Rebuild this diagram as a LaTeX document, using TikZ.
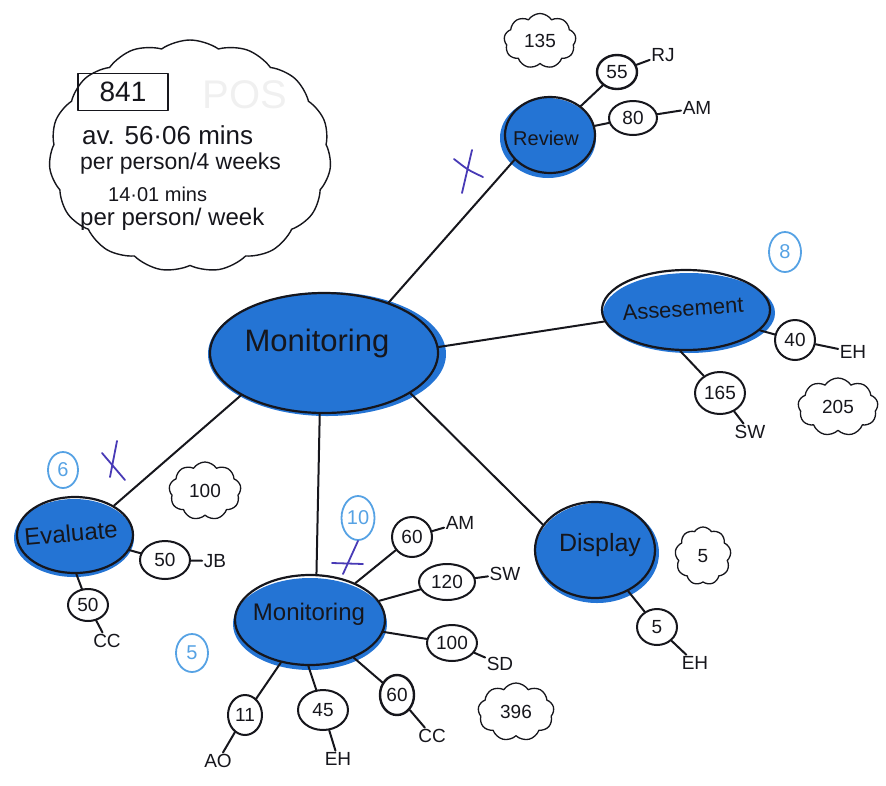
\documentclass[tikz,border=0pt]{standalone}
\usepackage{fontspec}
\setmainfont{Liberation Sans}
\usetikzlibrary{shapes.geometric,shapes.symbols}
\definecolor{marker}{RGB}{36,116,212}
\definecolor{paleblue}{RGB}{86,162,228}
\definecolor{pen}{RGB}{22,22,28}
\definecolor{violetpen}{RGB}{72,58,182}
\newcommand{\fs}[1]{\fontsize{#1}{#1}\selectfont}

\begin{document}
\begin{tikzpicture}[x=1pt,y=-1pt,line join=round,line cap=round,
  ink/.style={draw=pen,line width=2pt},
  topic/.style={ellipse,ink,line width=2.2pt,inner sep=0pt},
  topictext/.style={inner sep=0pt,text=pen},
  count/.style={ellipse,ink,inner sep=0pt,text=pen,font=\fs{19}},
  who/.style={inner sep=1.5pt,text=pen,font=\fs{19}},
  puff/.style={cloud,cloud puffs=9,cloud puff arc=115,cloud ignores aspect,
    draw=pen,line width=1.3pt,inner sep=0pt,text=pen,font=\fs{19}},
  tally/.style={ellipse,draw=paleblue,line width=1.8pt,inner sep=0pt,
    text=paleblue,font=\fs{20}},
  tick/.style={draw=violetpen,line width=1.8pt}]

\useasboundingbox (0,0) rectangle (886,785);

% ---- summary cloud ----
\node[cloud,cloud puffs=15,cloud puff arc=70,cloud ignores aspect,draw=pen,
  line width=1.4pt,minimum width=282pt,minimum height=232pt] (summary) at (190,156) {};
\node[draw=pen,line width=1.8pt,minimum width=90pt,minimum height=37pt,
  inner sep=0pt,font=\fs{28},text=pen] (total) at (123,92) {841};
\node[text=black!6,font=\fs{40}] (ghost) at (245,95) {POS};
\node[anchor=west,inner sep=0pt,text=pen,font=\fs{26}] (avg4) at (82,135) {av. 56·06 mins};
\node[anchor=west,inner sep=0pt,text=pen,font=\fs{23}] (per4) at (80,164) {per person/4 weeks};
\node[anchor=west,inner sep=0pt,text=pen,font=\fs{20}] (avg1) at (108,194) {14·01 mins};
\node[anchor=west,inner sep=0pt,text=pen,font=\fs{24}] (per1) at (80,219) {per person/ week};

% ---- marker fills under the topic ellipses ----
\fill[marker] (327,354) ellipse [x radius=119pt,y radius=62pt];
\fill[marker] (548,138) ellipse [x radius=48pt,y radius=40pt];
\fill[marker] (689,313) ellipse [x radius=86pt,y radius=40pt];
\fill[marker] (74,538) ellipse [x radius=60pt,y radius=39pt];
\fill[marker] (310,624) ellipse [x radius=77pt,y radius=46pt];
\fill[marker] (597,553) ellipse [x radius=62pt,y radius=50pt];

% ---- topics ----
\node[topic,minimum width=228pt,minimum height=120pt] (mon) at (324,353) {};
\node[topictext,font=\fs{31}] (monlabel) at (317,343) {Monitoring};
\node[topic,minimum width=90pt,minimum height=76pt] (rev) at (550,135) {};
\node[topictext,font=\fs{20}] (revlabel) at (546,138) {Review};
\node[topic,minimum width=168pt,minimum height=80pt] (ass) at (686,310) {};
\node[topictext,font=\fs{22},rotate=4] (asslabel) at (683,309) {Assesement};
\node[topic,minimum width=116pt,minimum height=76pt] (eva) at (75,535) {};
\node[topictext,font=\fs{24},rotate=5] (evalabel) at (71,533) {Evaluate};
\node[topic,minimum width=150pt,minimum height=90pt] (mon2) at (310,620) {};
\node[topictext,font=\fs{24}] (mon2label) at (309,614) {Monitoring};
\node[topic,minimum width=120pt,minimum height=96pt] (dis) at (595,550) {};
\node[topictext,font=\fs{25}] (dislabel) at (600,545) {Display};

% ---- branches from the centre ----
\draw[ink] (mon.38) -- (rev.215);
\draw[ink] (mon.3) -- (ass.188);
\draw[ink] (mon.207) -- (eva.37);
\draw[ink] (mon.266) -- (mon2.82);
\draw[ink] (mon.335) -- (dis.154);

% ---- Review ----
\node[count,line width=2.4pt,minimum width=40pt,minimum height=34pt] (r55) at (617,72) {55};
\node[count,minimum width=48pt,minimum height=34pt] (r80) at (633,118) {80};
\node[who] (rj) at (663,55) {RJ};
\node[who] (ram) at (697,108) {AM};
\draw[ink] (rev) -- (r55);
\draw[ink] (rev) -- (r80);
\draw[ink] (r55) -- (rj);
\draw[ink] (r80) -- (ram);
\node[puff,minimum width=72pt,minimum height=55pt] (revsum) at (540,41) {135};

% ---- Assesement ----
\node[count,minimum width=40pt,minimum height=40pt] (a40) at (795,340) {40};
\node[count,minimum width=50pt,minimum height=42pt] (a165) at (720,393) {165};
\node[who] (aeh) at (853,352) {EH};
\node[who] (asw) at (750,432) {SW};
\draw[ink] (ass) -- (a40);
\draw[ink] (ass.262) -- (a165);
\draw[ink] (a40) -- (aeh);
\draw[ink] (a165) -- (asw);
\node[puff,minimum width=80pt,minimum height=58pt] (asssum) at (838,407) {205};
\node[tally,minimum width=32pt,minimum height=40pt] (asstally) at (785,252) {8};

% ---- Evaluate ----
\node[count,minimum width=50pt,minimum height=38pt] (e50a) at (165,560) {50};
\node[count,minimum width=40pt,minimum height=32pt] (e50b) at (88,605) {50};
\node[who] (ejb) at (215,561) {JB};
\node[who] (ecc) at (107,641) {CC};
\draw[ink] (eva) -- (e50a);
\draw[ink] (eva.272) -- (e50b);
\draw[ink] (e50a) -- (ejb);
\draw[ink] (e50b) -- (ecc);
\node[puff,minimum width=72pt,minimum height=58pt] (evasum) at (205,491) {100};
\node[tally,minimum width=30pt,minimum height=36pt] (evatally) at (63,470) {6};
\draw[tick] (102,453) -- (125,480);
\draw[tick] (117,441) -- (110,477);

% ---- Monitoring (detail) ----
\node[count,minimum width=40pt,minimum height=40pt] (m60a) at (412,537) {60};
\node[count,minimum width=56pt,minimum height=36pt] (m120) at (447,582) {120};
\node[count,minimum width=50pt,minimum height=36pt] (m100) at (452,643) {100};
\node[count,line width=2.4pt,minimum width=34pt,minimum height=40pt] (m60b) at (397,695) {60};
\node[count,minimum width=50pt,minimum height=40pt] (m45) at (323,710) {45};
\node[count,minimum width=34pt,minimum height=40pt] (m11) at (245,715) {11};
\node[who] (mam) at (460,523) {AM};
\node[who] (msw) at (505,574) {SW};
\node[who] (msd) at (500,664) {SD};
\node[who] (mcc) at (432,736) {CC};
\node[who] (meh) at (338,759) {EH};
\node[who] (mao) at (218,761) {AO};
\draw[ink] (mon2) -- (m60a);
\draw[ink] (mon2) -- (m120);
\draw[ink] (mon2) -- (m100);
\draw[ink] (mon2) -- (m60b);
\draw[ink] (mon2.268) -- (m45);
\draw[ink] (mon2) -- (m11);
\draw[ink] (m60a) -- (mam);
\draw[ink] (m120) -- (msw);
\draw[ink] (m100) -- (msd);
\draw[ink] (m60b) -- (mcc);
\draw[ink] (m45) -- (meh);
\draw[ink] (m11) -- (mao);
\node[puff,minimum width=76pt,minimum height=58pt] (monsum) at (516,712) {396};
\node[tally,minimum width=33pt,minimum height=44pt] (montally) at (358,518) {10};
\node[tally,minimum width=32pt,minimum height=38pt] (montally2) at (192,653) {5};
\draw[tick] (montally.south) -- (343,574);
\draw[tick] (332,563) -- (363,564);

% ---- Display ----
\node[count,minimum width=40pt,minimum height=36pt] (d5) at (657,627) {5};
\node[who] (deh) at (695,663) {EH};
\draw[ink] (dis) -- (d5);
\draw[ink] (d5) -- (deh);
\node[puff,minimum width=56pt,minimum height=58pt] (dissum) at (703,556) {5};

% ---- tick beside the Review branch ----
\draw[tick] (454,159) .. controls (468,170) .. (483,177);
\draw[tick] (472,150) -- (462,193);
\end{tikzpicture}
\end{document}
